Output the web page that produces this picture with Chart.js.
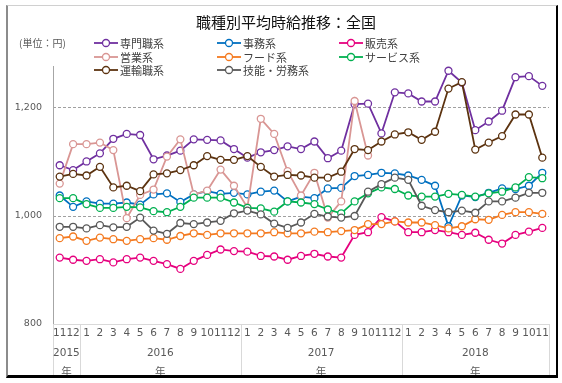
<!DOCTYPE html>
<html><head><meta charset="utf-8">
<script src="https://cdn.jsdelivr.net/npm/chart.js@4/dist/chart.umd.min.js"></script>
<style>
html,body{margin:0;padding:0;background:#fff;}
#wrap{position:absolute;left:0;top:0;width:562px;height:383px;}
#frame{position:absolute;left:6px;top:5px;width:548px;height:369px;border-left:2px solid #8c8c8c;border-top:1px solid #d0d0d0;border-right:2px solid #000;border-bottom:3px solid #000;pointer-events:none;}
canvas{position:absolute;left:0;top:0;}
</style></head>
<body><div id="wrap"><canvas id="c" width="562" height="383"></canvas><div id="frame"></div></div>
<script>
const chartTitle = '職種別平均時給推移：全国';
const unitLabel = '(単位：円)';
const months = ['11','12','1','2','3','4','5','6','7','8','9','10','11','12','1','2','3','4','5','6','7','8','9','10','11','12','1','2','3','4','5','6','7','8','9','10','11'];
const yearLabels = ['2015','2016','2017','2018'];
const yearSpans = [2,12,12,11];
const yearSuffix = '年';
const yTicks = [800,1000,1200];
const yMin = 800, yMax = 1300;

const seriesNames = ['専門職系','事務系','販売系','営業系','フード系','サービス系','運輸職系','技能・労務系'];
const senmon  = [1094,1085,1101,1116,1143,1152,1150,1105,1112,1121,1142,1141,1140,1124,1108,1118,1122,1129,1124,1138,1107,1121,1207,1208,1153,1229,1227,1212,1212,1269,1247,1159,1175,1195,1257,1259,1241];
const jimu    = [1038,1017,1027,1023,1023,1025,1021,1040,1042,1026,1040,1046,1041,1043,1040,1045,1047,1027,1036,1033,1051,1052,1074,1076,1080,1079,1075,1067,1056,981,1038,1035,1043,1051,1050,1056,1080];
const hanbai  = [923,919,917,920,914,920,923,917,911,902,917,928,938,935,934,926,925,919,926,930,925,923,965,970,998,990,970,970,974,970,965,969,956,949,965,971,978];
const eigyo   = [1060,1133,1133,1136,1122,996,1039,1049,1110,1142,1040,1047,1086,1056,1016,1180,1152,1083,1038,1080,997,1027,1213,1112,null,null,null,null,null,null,null,null,null,null,null,null,null];
const food    = [959,962,954,960,957,954,957,959,956,963,968,965,968,968,968,968,970,968,968,971,970,972,974,985,985,990,988,988,983,977,981,994,993,1002,1007,1007,1004];
const service = [1033,1033,1022,1015,1015,1017,1016,1009,1007,1017,1034,1034,1034,1025,1015,1014,1008,1027,1025,1022,1012,1005,1027,1042,1053,1050,1038,1036,1036,1041,1039,1036,1042,1045,1053,1072,1070];
const unyu    = [1073,1078,1075,1091,1053,1056,1046,1077,1079,1085,1094,1111,1104,1104,1111,1091,1073,1076,1075,1071,1071,1082,1124,1122,1138,1151,1155,1141,1156,1236,1248,1123,1136,1148,1188,1188,1108];
const gino    = [980,980,977,983,979,980,997,973,967,987,985,988,991,1005,1010,1003,986,978,988,1004,999,997,1000,1045,1059,1071,1067,1019,1011,1007,1010,1006,1027,1027,1034,1043,1043];

const seriesValues = [senmon,jimu,hanbai,eigyo,food,service,unyu,gino];
const seriesColors = ['#7030a0','#0070c0','#e6007e','#d99694','#f47a20','#00b050','#5c3310','#595959'];

const JP = '"Noto Sans CJK JP", sans-serif';
const NUM = '"DejaVu Sans", sans-serif';

const datasets = seriesNames.map((n,i)=>({
  label:n, data:seriesValues[i], borderColor:seriesColors[i], backgroundColor:'#fff',
  pointBackgroundColor:'#fff', pointBorderColor:seriesColors[i], pointRadius:3.5, pointBorderWidth:1.3,
  borderWidth:1.8, tension:0, spanGaps:false, order: seriesNames.length - i
}));

const decor = {
  id:'decor',
  beforeDatasetsDraw(chart){
    const ctx = chart.ctx, a = chart.chartArea, xs = chart.scales.x;
    ctx.save();
    ctx.lineWidth = 1;
    // x axis line
    ctx.strokeStyle = '#d9d9d9';
    ctx.beginPath(); ctx.moveTo(a.left, a.bottom+0.5); ctx.lineTo(a.right, a.bottom+0.5); ctx.stroke();
    // y axis line (plot part)
    ctx.strokeStyle = '#a6a6a6';
    ctx.beginPath(); ctx.moveTo(a.left+0.5, 66); ctx.lineTo(a.left+0.5, a.bottom); ctx.stroke();
    // category separators
    ctx.strokeStyle = '#d9d9d9';
    let idx = 0;
    const bounds = [a.left];
    yearSpans.forEach(s=>{ idx += s; 
      const last = idx-1;
      const px = last < months.length-1 ? (xs.getPixelForValue(last)+xs.getPixelForValue(last+1))/2 : a.right;
      bounds.push(px);
    });
    bounds.forEach(b=>{ const x = Math.round(b)+0.5; ctx.beginPath(); ctx.moveTo(x, a.bottom); ctx.lineTo(x, 376); ctx.stroke(); });
    ctx.restore();
  },
  afterDraw(chart){
    const ctx = chart.ctx, a = chart.chartArea, xs = chart.scales.x;
    ctx.save();
    // title
    ctx.fillStyle = '#111';
    ctx.font = '15px ' + JP;
    ctx.textAlign = 'center'; ctx.textBaseline = 'middle';
    ctx.fillText(chartTitle, 286, 22);
    // unit
    ctx.fillStyle = '#595959';
    ctx.font = '10px ' + JP;
    ctx.textAlign = 'left';
    ctx.fillText(unitLabel, 19, 43);
    // legend
    const colX = [94,217,339], rowY = [43,57,70];
    chart.data.datasets.forEach((d,i)=>{
      const x = colX[i%3], y = rowY[Math.floor(i/3)];
      ctx.strokeStyle = d.borderColor; ctx.lineWidth = 1.8;
      ctx.beginPath(); ctx.moveTo(x, y); ctx.lineTo(x+24, y); ctx.stroke();
      ctx.fillStyle = '#fff'; ctx.lineWidth = 1.3;
      ctx.beginPath(); ctx.arc(x+12, y, 3.5, 0, Math.PI*2); ctx.fill(); ctx.stroke();
      ctx.fillStyle = '#404040'; ctx.font = '11px ' + JP; ctx.textAlign='left'; ctx.textBaseline='middle';
      ctx.fillText(d.label, x+26, y+0.5);
    });
    // year labels
    let start = 0;
    ctx.fillStyle = '#595959'; ctx.textAlign='center'; ctx.textBaseline='middle';
    yearSpans.forEach((s,k)=>{
      const end = start + s - 1;
      const l = start === 0 ? a.left : (xs.getPixelForValue(start-1)+xs.getPixelForValue(start))/2;
      const r = end === months.length-1 ? a.right : (xs.getPixelForValue(end)+xs.getPixelForValue(end+1))/2;
      const cx = (l+r)/2;
      ctx.font = '10.5px ' + NUM;
      ctx.fillText(yearLabels[k], cx, 353);
      ctx.font = '10.5px ' + JP;
      ctx.fillText(yearSuffix, cx, 371);
      start += s;
    });
    ctx.restore();
  }
};

new Chart(document.getElementById('c'), {
  type:'line',
  data:{ labels: months, datasets },
  options:{
    responsive:false, animation:false, devicePixelRatio:1,
    layout:{ padding:{ left:0, right:13, top:54, bottom:0 } },
    plugins:{ legend:{display:false}, title:{display:false}, tooltip:{enabled:false} },
    scales:{
      x:{
        type:'category', offset:true,
        grid:{ display:false, drawTicks:false },
        border:{ display:false },
        ticks:{ autoSkip:false, maxRotation:0, minRotation:0, padding:3, color:'#595959', font:{ family:NUM, size:10.5 } },
        afterFit(s){ s.height = 59; }
      },
      y:{
        min:yMin, max:yMax,
        afterBuildTicks(s){ s.ticks = yTicks.map(v=>({value:v})); },
        grid:{ drawTicks:false, lineWidth:1, color:(c)=> c.tick && c.tick.value === yMin ? 'rgba(0,0,0,0)' : '#a0a0a0' },
        border:{ display:false, dash:[3,2] },
        ticks:{ padding:11, color:'#595959', font:{ family:NUM, size:9.5 }, callback:(v)=> Number(v).toLocaleString('en-US') },
        afterFit(s){ s.width = 53; }
      }
    }
  },
  plugins:[decor]
});
</script>
</body></html>
